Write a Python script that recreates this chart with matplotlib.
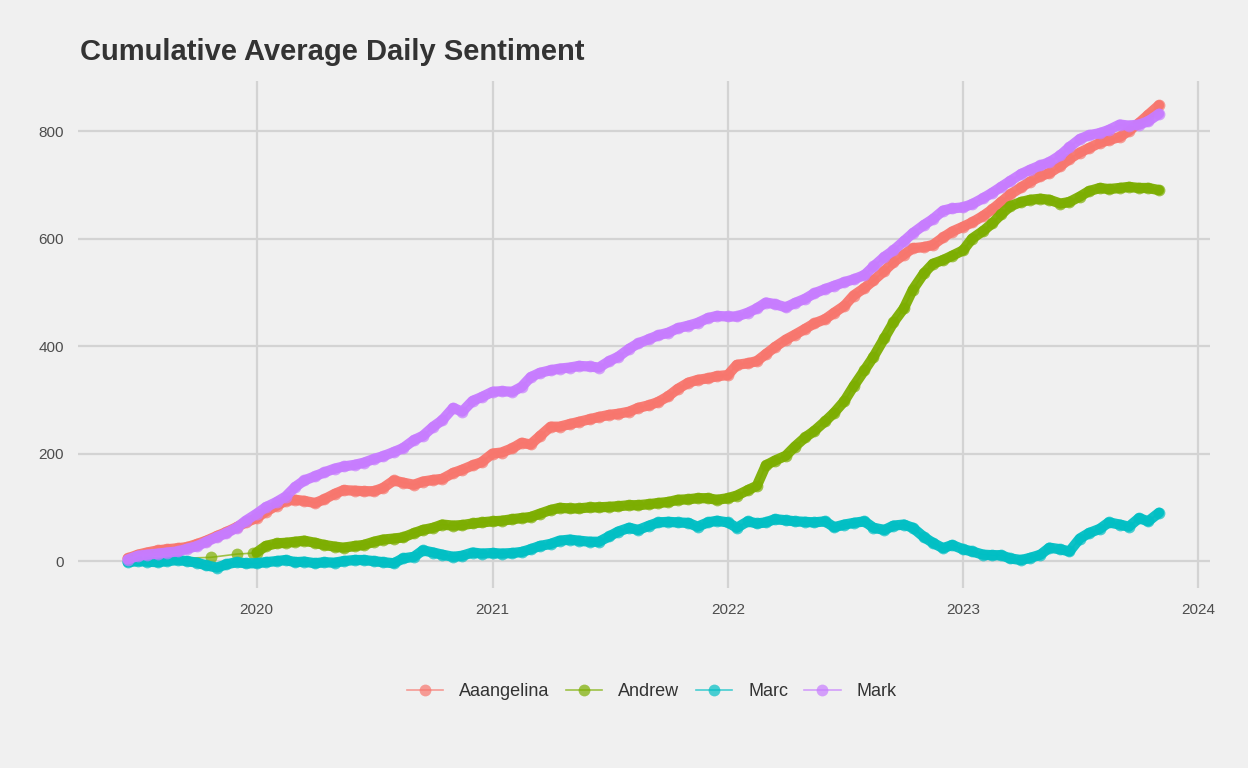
import numpy as np
import pandas as pd
import matplotlib
matplotlib.use("Agg")
import matplotlib.pyplot as plt
import matplotlib.dates as mdates

plt.rcParams['font.family'] = ['Liberation Sans', 'DejaVu Sans']

# semi-monthly sample dates (1st and 15th)
dates = pd.date_range('2019-06-15', '2023-11-01', freq='SMS')

aaangelina = [5, 12, 16, 20, 22, 24, 26, 32, 38, 47, 54, 63, 72,
              80, 92, 103, 112, 114, 112, 108, 115, 125, 132, 131, 130,
              130, 136, 150, 146, 142, 148, 151, 153, 164, 170, 178, 184,
              200, 202, 210, 220, 217, 232, 250, 250, 255, 259, 264, 268,
              272, 274, 278, 285, 290, 296, 307, 320, 332, 337, 340, 344,
              346, 365, 368, 372, 385, 398, 412, 421, 432, 442, 450, 462,
              475, 494, 508, 522, 540, 556, 570, 582, 584, 588, 602, 613,
              622, 630, 642, 654, 668, 682, 695, 706, 716, 722, 735, 748,
              760, 768, 778, 783, 789, 800, 815, 830, 848]

mark = [3, 10, 12, 14, 16, 18, 23, 28, 36, 45, 52, 62, 75,
        88, 100, 110, 120, 138, 150, 158, 165, 172, 176, 179, 183,
        190, 195, 203, 210, 225, 233, 250, 262, 285, 278, 298, 305,
        315, 316, 315, 324, 342, 350, 355, 358, 360, 363, 362, 360,
        372, 380, 395, 405, 413, 420, 425, 433, 438, 443, 452, 456,
        455, 455, 462, 470, 481, 478, 472, 480, 488, 498, 506, 512,
        519, 524, 532, 548, 566, 578, 595, 610, 625, 636, 652, 656,
        658, 664, 675, 685, 696, 707, 720, 728, 736, 742, 755, 770,
        785, 792, 796, 802, 812, 810, 812, 818, 832]

marc = [-2, 0, -1, -2, 0, 2, 0, -3, -8, -12, -6, -2, -4,
        -4, -2, 0, 2, -2, -1, -4, -2, -3, 0, 2, 2,
        0, -2, -4, 5, 8, 20, 16, 12, 8, 10, 16, 14,
        15, 14, 15, 17, 22, 28, 32, 38, 40, 38, 36, 36,
        46, 55, 62, 58, 66, 72, 73, 72, 71, 64, 72, 75,
        72, 62, 74, 70, 72, 78, 76, 74, 73, 72, 74, 63,
        68, 71, 74, 62, 58, 66, 68, 62, 45, 34, 24, 30,
        22, 18, 12, 11, 11, 5, 2, 6, 12, 25, 22, 18,
        42, 52, 60, 72, 68, 64, 80, 74, 90]

# Andrew posts only a few times in 2019, then joins the regular grid
andrew_dates = pd.to_datetime(['2019-06-19', '2019-10-22', '2019-12-01', '2019-12-27']).append(
    dates[dates >= '2020-01-01'])
andrew = [2, 7, 13, 15,
          16, 28, 33, 34, 36, 38, 34, 30, 27, 25, 28, 30,
          36, 40, 42, 44, 52, 58, 62, 68, 66, 67, 70, 72,
          74, 75, 78, 80, 82, 88, 95, 99, 98, 98, 100, 100,
          101, 102, 104, 104, 106, 108, 110, 114, 115, 117, 117, 114,
          117, 122, 132, 140, 178, 187, 196, 213, 230, 242, 260, 276,
          298, 325, 355, 380, 415, 444, 470, 505, 535, 553, 560, 568,
          578, 600, 614, 628, 645, 660, 668, 672, 674, 672, 665, 668,
          678, 688, 694, 692, 694, 696, 694, 694, 690]

names = ['Aaangelina', 'Andrew', 'Marc', 'Mark']
colors = ['#F8766D', '#7CAE00', '#00BFC4', '#C77CFF']
series = [(dates, aaangelina), (andrew_dates, andrew), (dates, marc), (dates, mark)]
# where the dense daily band starts (Andrew is sparse in 2019)
band_start = [0, 4, 0, 0]

bg = '#F0F0F0'
fig = plt.figure(figsize=(12.48, 7.68), dpi=100, facecolor=bg)
ax = fig.add_axes([78 / 1248, 180 / 768, 1132 / 1248, 507 / 768], facecolor=bg)

handles = []
for name, color, (x, y), b in zip(names, colors, series, band_start):
    # thick band standing in for the overlapping daily points
    ax.plot(x[b:], y[b:], color=color, lw=7.4, alpha=0.95,
            solid_capstyle='round', solid_joinstyle='round')
    h, = ax.plot(x, y, color=color, lw=1.2, alpha=0.7, label=name,
                 marker='o', markersize=8.5, markeredgewidth=0,
                 markerfacecolor=color)
    handles.append(h)

ax.set_xlim(pd.Timestamp('2019-03-30'), pd.Timestamp('2024-01-19'))
ax.set_ylim(-50, 893)
ax.set_yticks([0, 200, 400, 600, 800])
ax.xaxis.set_major_locator(mdates.YearLocator())
ax.xaxis.set_major_formatter(mdates.DateFormatter('%Y'))

ax.grid(True, color='#D3D3D3', lw=1.6)
ax.set_axisbelow(True)
for s in ax.spines.values():
    s.set_visible(False)
ax.tick_params(length=0, labelsize=11, labelcolor='#4D4D4D')
ax.tick_params(axis='y', pad=10)
ax.tick_params(axis='x', pad=11)

fig.text(80 / 1248, 1 - 60 / 768, 'Cumulative Average Daily Sentiment',
         fontsize=21, fontweight='bold', color='#333333', va='baseline')

leg = fig.legend(handles=handles, loc='center',
                 bbox_to_anchor=(652 / 1248, 1 - 692 / 768), ncol=4,
                 frameon=False, fontsize=13, handlelength=2.0, handletextpad=0.9,
                 columnspacing=0.9)
for t in leg.get_texts():
    t.set_color('#333333')

fig.savefig('out.png', dpi=100, facecolor=bg)
